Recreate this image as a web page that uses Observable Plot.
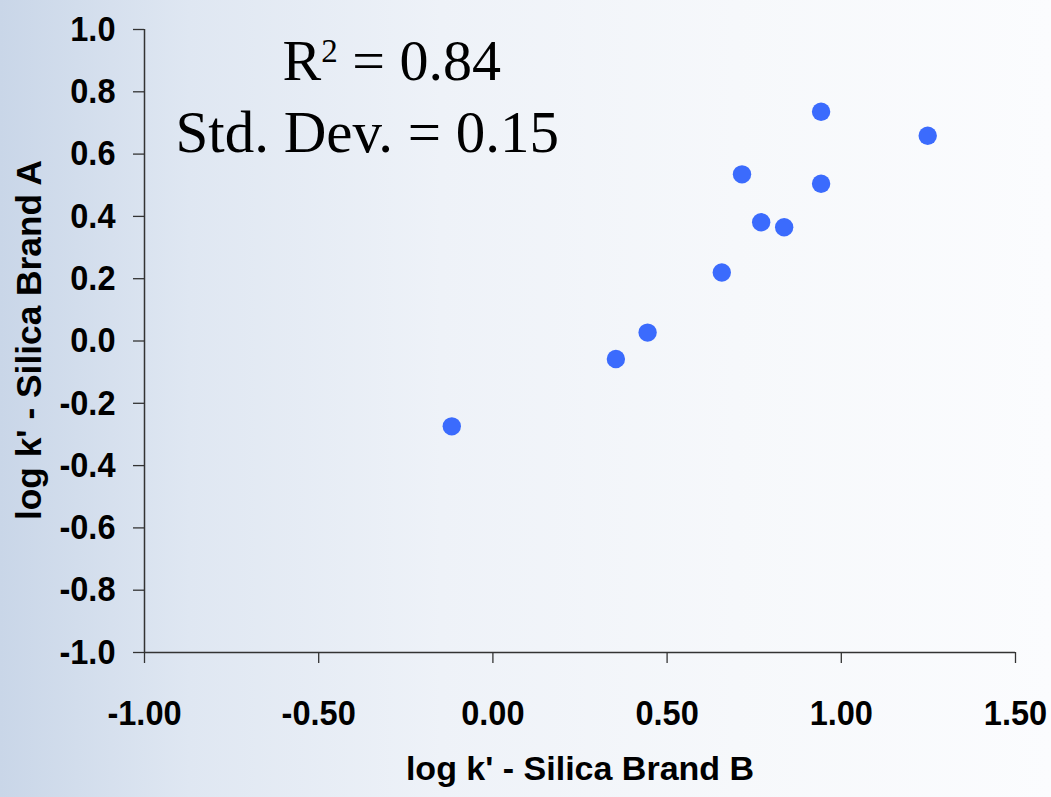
<!DOCTYPE html>
<html>
<head>
<meta charset="utf-8">
<script src="https://cdn.jsdelivr.net/npm/d3@7"></script>
<script src="https://cdn.jsdelivr.net/npm/@observablehq/plot@0.6"></script>
<style>
  html, body { margin: 0; padding: 0; }
  body {
    width: 1051px; height: 797px; overflow: hidden;
    background: linear-gradient(to right, #c9d6e8 0%, #dfe7f2 18%, #eef2f8 42%, #f6f8fb 70%, #fbfcfe 100%);
  }
</style>
</head>
<body>
<div id="chart"></div>
<script>
// Data
const brandB = [-0.118, 0.353, 0.444, 0.657, 0.715, 0.770, 0.836, 0.942, 0.942, 1.248];
const brandA = [-0.274, -0.058, 0.027, 0.220, 0.535, 0.381, 0.365, 0.736, 0.505, 0.659];
const xTicks = [-1.0, -0.5, 0.0, 0.5, 1.0, 1.5];
const yTicks = [-1.0, -0.8, -0.6, -0.4, -0.2, 0.0, 0.2, 0.4, 0.6, 0.8, 1.0];
const xTitle = "log k' - Silica Brand B";
const yTitle = "log k' - Silica Brand A";
const annotations = ["R\u00B2 = 0.84", "Std. Dev. = 0.15"];

const points = brandB.map((b, i) => ({b, a: brandA[i]}));
const serif = "'Liberation Serif', 'Times New Roman', serif";
const squeeze = 0.93;

const chart = Plot.plot({
  width: 1051,
  height: 797,
  marginLeft: 144,
  marginRight: 36,
  marginTop: 29,
  marginBottom: 145,
  style: {background: "transparent", fontFamily: "'Liberation Sans', Arial, sans-serif", fontWeight: "bold", color: "#000"},
  x: {domain: [-1, 1.5]},
  y: {domain: [-1, 1]},
  marks: [
    Plot.axisY({ticks: yTicks, tickFormat: d => d.toFixed(1), tickSize: 11, tickPadding: 18, fontSize: 35, fontWeight: "bold", label: null, stroke: "#333", strokeWidth: 1.3}),
    Plot.axisX({ticks: xTicks, tickFormat: d => d.toFixed(2), tickSize: 11, tickPadding: 37, fontSize: 35, fontWeight: "bold", label: null, stroke: "#333", strokeWidth: 1.3}),
    Plot.ruleX([-1], {stroke: "#333", strokeWidth: 1.5}),
    Plot.ruleY([-1], {stroke: "#333", strokeWidth: 1.5}),
    Plot.dot(points, {x: "b", y: "a", r: 9.2, fill: "#3b6bfd", stroke: "none"}),
    Plot.text([xTitle], {frameAnchor: "bottom", dy: 127, fontSize: 34, fontWeight: "bold", fill: "#000"}),
    Plot.text([yTitle], {frameAnchor: "left", textAnchor: "middle", dx: -115, dy: -1, rotate: -90, fontSize: 35.3, fontWeight: "bold", fill: "#000"}),
    Plot.text([annotations[0]], {frameAnchor: "top-left", textAnchor: "start", dx: 138, dy: 9.5, fontSize: 58, fontFamily: serif, fontWeight: "normal", fill: "#000"}),
    Plot.text([annotations[1]], {frameAnchor: "top-left", textAnchor: "start", dx: 31, dy: 80.5, fontSize: 59, fontFamily: serif, fontWeight: "normal", fill: "#000"})
  ]
});

// Tick labels in the reference are slightly condensed horizontally
chart.querySelectorAll('g[aria-label="y-axis tick label"] text, g[aria-label="x-axis tick label"] text').forEach(t => {
  const tr = t.getAttribute("transform") || "";
  const xa = t.getAttribute("x");
  if (xa !== null && !isNaN(+xa)) t.setAttribute("x", +xa / squeeze);
  t.setAttribute("transform", `${tr} scale(${squeeze},1)`);
});

// Render the R² superscript as a proper raised "2" like the reference
chart.querySelectorAll("text").forEach(t => {
  if (t.textContent === annotations[0]) {
    const ns = "http://www.w3.org/2000/svg";
    t.textContent = "";
    t.appendChild(document.createTextNode("R"));
    const sup = document.createElementNS(ns, "tspan");
    sup.setAttribute("font-size", "33");
    sup.setAttribute("dy", "-18");
    sup.textContent = "2";
    t.appendChild(sup);
    const rest = document.createElementNS(ns, "tspan");
    rest.setAttribute("dy", "18");
    rest.textContent = " = 0.84";
    t.appendChild(rest);
  }
});
document.getElementById("chart").appendChild(chart);
</script>
</body>
</html>
